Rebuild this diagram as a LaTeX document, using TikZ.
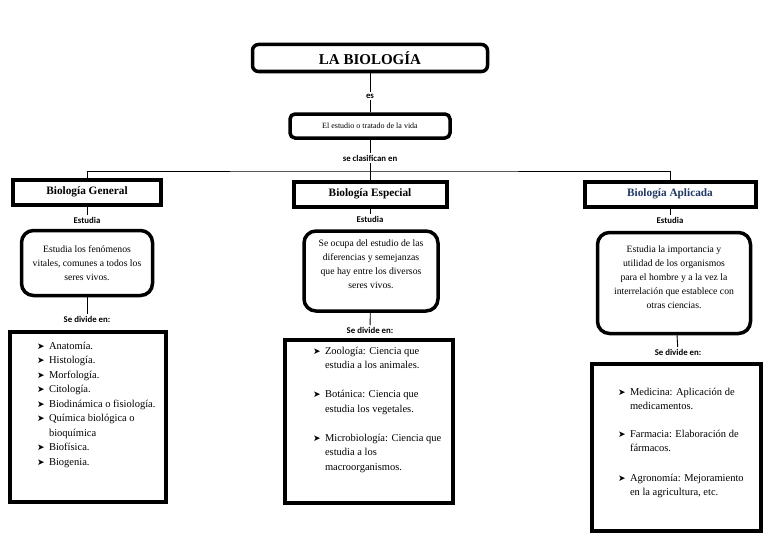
\documentclass[tikz,border=0pt]{standalone}
\usepackage{fontspec}
\setmainfont{Liberation Serif}
\newfontfamily\labfont{Carlito}
\newfontfamily\symfont{DejaVu Sans}
\usepackage{tikz}
\usetikzlibrary{positioning}
\definecolor{apblue}{HTML}{1F3864}
\newcommand{\bitem}[1]{\par\hangindent=12pt\hangafter=1\noindent\makebox[12pt][l]{\symfont\fontsize{9}{10}\selectfont ➤}#1\par}

\begin{document}
\begin{tikzpicture}[x=1pt,y=-1pt,
  titlebox/.style={draw,line width=3.5pt,rounded corners=6pt,minimum width=235,minimum height=27,font=\bfseries\fontsize{15}{17}\selectfont},
  defbox/.style={draw,line width=3.5pt,rounded corners=5pt,minimum width=160,minimum height=24,font=\fontsize{8}{10}\selectfont},
  branch/.style={draw,line width=4pt,minimum height=25,font=\bfseries\fontsize{11.3}{13}\selectfont},
  roundbox/.style={draw,line width=3.5pt,rounded corners=12pt,align=center,font=\fontsize{9.7}{14}\selectfont},
  listbox/.style={draw,line width=4pt,inner sep=0pt,font=\fontsize{10.5}{14.5}\selectfont},
  lab/.style={font=\labfont\bfseries\fontsize{8.8}{10}\selectfont,inner sep=1.5pt},
  conn/.style={line width=0.9pt}]
  \useasboundingbox (0,0) rectangle (768,543);
  % top of the map
  \node[titlebox] (title) at (370,58) {LA BIOLOGÍA};
  \node[lab] (es) at (370,96) {es};
  \node[defbox] (vida) at (370,126) {El estudio o tratado de la vida};
  \node[lab] (clas) at (370,158) {se clasifican en};
  \coordinate (split) at (370,171);
  % the three branches
  \node[branch,minimum width=148] (gen) at (87,192) {Biología General};
  \node[branch,minimum width=153] (esp) at (370,194) {Biología Especial};
  \node[branch,minimum width=171,text=apblue] (apl) at (670,194) {Biología Aplicada};
  \draw[conn] (title) -- (es) -- (vida) -- (clas) -- (esp);
  \draw[conn] (gen) |- (split) -| (apl);
  % what each branch studies
  \node[lab] (genEst) at (87,220) {Estudia};
  \node[lab] (espEst) at (370,219) {Estudia};
  \node[lab] (aplEst) at (670,220) {Estudia};
  \node[roundbox,minimum width=131,minimum height=65] (genTxt) at (87,263)
    {Estudia los fenómenos\\vitales, comunes a todos los\\seres vivos.};
  \node[roundbox,minimum width=134,minimum height=80] (espTxt) at (371,271)
    {Se ocupa del estudio de las\\diferencias y semejanzas\\que hay entre los diversos\\seres vivos.\\\mbox{}};
  \node[roundbox,minimum width=153,minimum height=101] (aplTxt) at (674,283)
    {Estudia la importancia y\\utilidad de los organismos\\para el hombre y a la vez la\\interrelación que establece con\\otras ciencias.\\[-3pt]\mbox{}};
  \draw[conn] (gen) -- (genEst);
  \draw[conn] (esp) -- (espEst);
  \draw[conn] (apl) -- (aplEst);
  % subdivisions
  \node[lab] (genDiv) at (87,319) {Se divide en:};
  \node[lab] (espDiv) at (370,330) {Se divide en:};
  \node[lab] (aplDiv) at (678,352) {Se divide en:};
  \draw[conn] (genTxt) -- (genDiv);
  \draw[conn] (espTxt) -- (espDiv);
  \draw[conn] (aplTxt) -- (aplDiv);
  \node[listbox,minimum width=156,minimum height=170] (genList) at (88,417) {%
    \begin{minipage}[c][160pt][t]{156pt}
      \raggedright\leftskip=27pt
      \vspace*{5pt}
      \bitem{Anatomía.}
      \bitem{Histología.}
      \bitem{Morfología.}
      \bitem{Citología.}
      \bitem{Biodinámica o fisiología.}
      \bitem{Química biológica o\newline bioquímica}
      \bitem{Biofísica.}
      \bitem{Biogenia.}
    \end{minipage}};
  \node[listbox,minimum width=168,minimum height=163] (espList) at (369,421) {%
    \begin{minipage}[c][150pt][t]{164pt}
      \raggedright\leftskip=26pt
      \vspace*{1pt}
      \bitem{Zoología: Ciencia que\newline estudia a los animales.}
      \vspace{14.5pt}
      \bitem{Botánica: Ciencia que\newline estudia los vegetales.}
      \vspace{14.5pt}
      \bitem{Microbiología: Ciencia que\newline estudia a los\newline macroorganismos.}
    \end{minipage}};
  \node[listbox,minimum width=169,minimum height=167] (aplList) at (676,447) {%
    \begin{minipage}[c][150pt][t]{165pt}
      \raggedright\leftskip=24.5pt
      \vspace*{16pt}
      \bitem{Medicina: Aplicación de\newline medicamentos.}
      \vspace{13pt}
      \bitem{Farmacia: Elaboración de\newline fármacos.}
      \vspace{15pt}
      \bitem{Agronomía: Mejoramiento\newline en la agricultura, etc.}
    \end{minipage}};
\end{tikzpicture}
\end{document}
